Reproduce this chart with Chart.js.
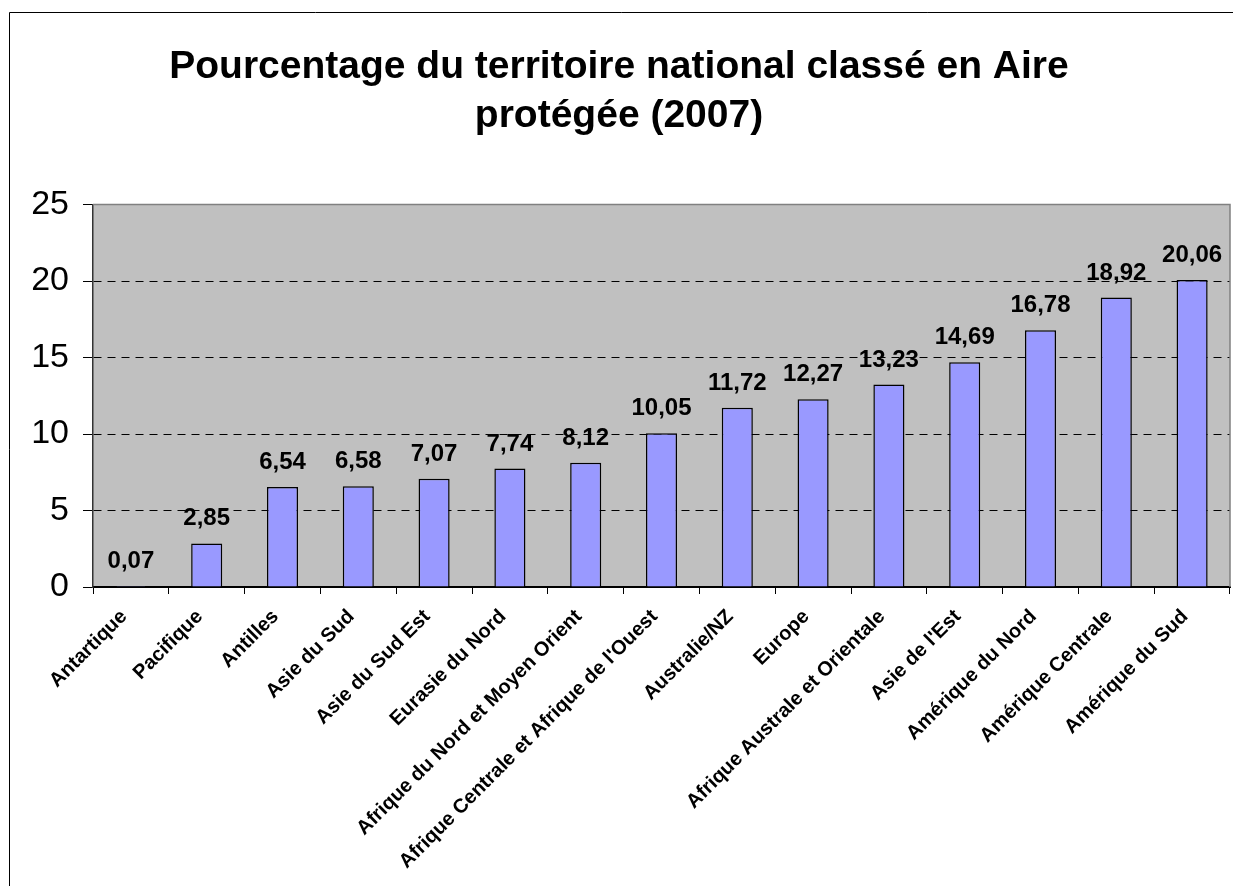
<!DOCTYPE html>
<html>
<head>
<meta charset="utf-8">
<script src="https://cdn.jsdelivr.net/npm/chart.js@4"></script>
<style>
  body { margin: 0; background: #fff; }
  canvas { display: block; }
</style>
</head>
<body>
<canvas id="chart" width="1233" height="886"></canvas>
<script>
const regions = [
  "Antartique", "Pacifique", "Antilles", "Asie du Sud", "Asie du Sud Est",
  "Eurasie du Nord", "Afrique du Nord et Moyen Orient",
  "Afrique Centrale et Afrique de l'Ouest", "Australie/NZ", "Europe",
  "Afrique Australe et Orientale", "Asie de l'Est", "Amérique du Nord",
  "Amérique Centrale", "Amérique du Sud"
];
const percentages = [0.07, 2.85, 6.54, 6.58, 7.07, 7.74, 8.12, 10.05, 11.72, 12.27, 13.23, 14.69, 16.78, 18.92, 20.06];
const yTicks = [0, 5, 10, 15, 20, 25];

const FONT = "'Liberation Sans', Arial, sans-serif";

// grey plot background + outer frame (only left/top edges visible)
const backdrop = {
  id: "backdrop",
  beforeDraw(chart) {
    const { ctx, chartArea: a } = chart;
    ctx.save();
    ctx.fillStyle = "#fff";
    ctx.fillRect(0, 0, chart.width, chart.height);
    ctx.fillStyle = "#c0c0c0";
    ctx.fillRect(a.left, a.top, a.right - a.left, a.bottom - a.top);
    ctx.strokeStyle = "#000";
    ctx.lineWidth = 1;
    ctx.beginPath();
    ctx.moveTo(9.5, chart.height);
    ctx.lineTo(9.5, 12.5);
    ctx.lineTo(chart.width, 12.5);
    ctx.stroke();
    ctx.restore();
  },
  beforeDatasetsDraw(chart) {
    const { ctx, chartArea: a } = chart;
    ctx.save();
    ctx.strokeStyle = "#808080";
    ctx.lineWidth = 1.5;
    ctx.beginPath();
    ctx.moveTo(a.left, a.top);
    ctx.lineTo(a.right, a.top);
    ctx.lineTo(a.right, a.bottom);
    ctx.stroke();
    ctx.restore();
  }
};

// value labels above bars
const valueLabels = {
  id: "valueLabels",
  afterDatasetsDraw(chart) {
    const { ctx } = chart;
    const meta = chart.getDatasetMeta(0);
    ctx.save();
    ctx.font = "bold 24px " + FONT;
    ctx.fillStyle = "#000";
    ctx.textAlign = "center";
    ctx.textBaseline = "alphabetic";
    meta.data.forEach((bar, i) => {
      const txt = percentages[i].toFixed(2).replace(".", ",");
      ctx.fillText(txt, bar.x, bar.y - 18);
    });
    ctx.restore();
  }
};

new Chart(document.getElementById("chart"), {
  type: "bar",
  data: {
    labels: regions,
    datasets: [{
      data: percentages,
      backgroundColor: "#9999ff",
      borderColor: "#000",
      borderWidth: 1.5,
      barPercentage: 0.41,
      categoryPercentage: 1
    }]
  },
  options: {
    responsive: false,
    animation: false,
    layout: { padding: { left: 8, right: 3, top: 0, bottom: 0 } },
    plugins: {
      legend: { display: false },
      tooltip: { enabled: false },
      title: {
        display: true,
        text: ["Pourcentage du territoire national classé en Aire", "protégée (2007)"],
        color: "#000",
        font: { family: FONT, size: 39, weight: "bold", lineHeight: 1.25 },
        padding: { top: 43, bottom: 64 }
      }
    },
    scales: {
      x: {
        grid: {
          display: true,
          drawOnChartArea: false,
          offset: true,
          tickLength: 7,
          tickColor: "#000",
          tickWidth: 1
        },
        border: { color: "#000", width: 2 },
        ticks: {
          color: "#000",
          font: { family: FONT, size: 20, weight: "bold" },
          minRotation: 45,
          maxRotation: 45,
          autoSkip: false,
          padding: 11,
          labelOffset: -7
        },
        afterFit(scale) { scale.height = 299; }
      },
      y: {
        min: 0,
        max: 25,
        afterBuildTicks(scale) { scale.ticks = yTicks.map(v => ({ value: v })); },
        grid: {
          color: c => (c.tick && (c.tick.value === 0 || c.tick.value === 25)) ? "rgba(0,0,0,0)" : "#000",
          lineWidth: 1,
          tickLength: 10,
          tickColor: "#000",
          tickWidth: 1,
          tickBorderDash: []
        },
        border: { color: "#333", width: 1.5, dash: [8, 6] },
        ticks: {
          color: "#000",
          font: { family: FONT, size: 34 },
          padding: 14
        },
        afterFit(scale) { scale.width = 85; }
      }
    }
  },
  plugins: [backdrop, valueLabels]
});
</script>
</body>
</html>
